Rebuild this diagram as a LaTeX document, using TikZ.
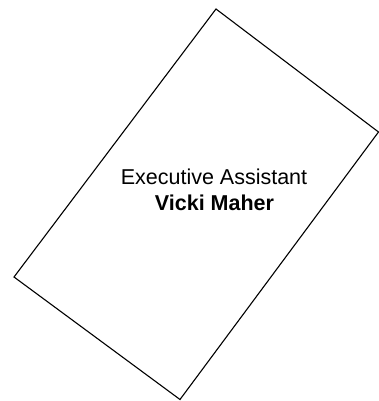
\documentclass[tikz,border=0pt]{standalone}
\usepackage{fontspec}
\setmainfont{Liberation Sans}
\usetikzlibrary{calc}

\begin{document}
\begin{tikzpicture}[x=1pt,y=-1pt]
    % Rahmen des Bildes
    \useasboundingbox (0,0) rectangle (379,401);

    % Ecken des gedrehten Kastens
    \coordinate (T) at (216,9);
    \coordinate (R) at (378.5,132);
    \coordinate (B) at (180,399.5);
    \coordinate (L) at (14,277);

    % Kasten
    \draw[line width=1.1pt, line join=miter] (T) -- (R) -- (B) -- (L) -- cycle;

    % Beschriftung
    \node[anchor=base, inner sep=0pt, font=\fontsize{21.5}{26}\selectfont] (title) at (214,184) {Executive Assistant};
    \node[anchor=base, inner sep=0pt, font=\fontsize{21.5}{26}\selectfont\bfseries] (name) at (214.5,210) {Vicki Maher};
\end{tikzpicture}
\end{document}
